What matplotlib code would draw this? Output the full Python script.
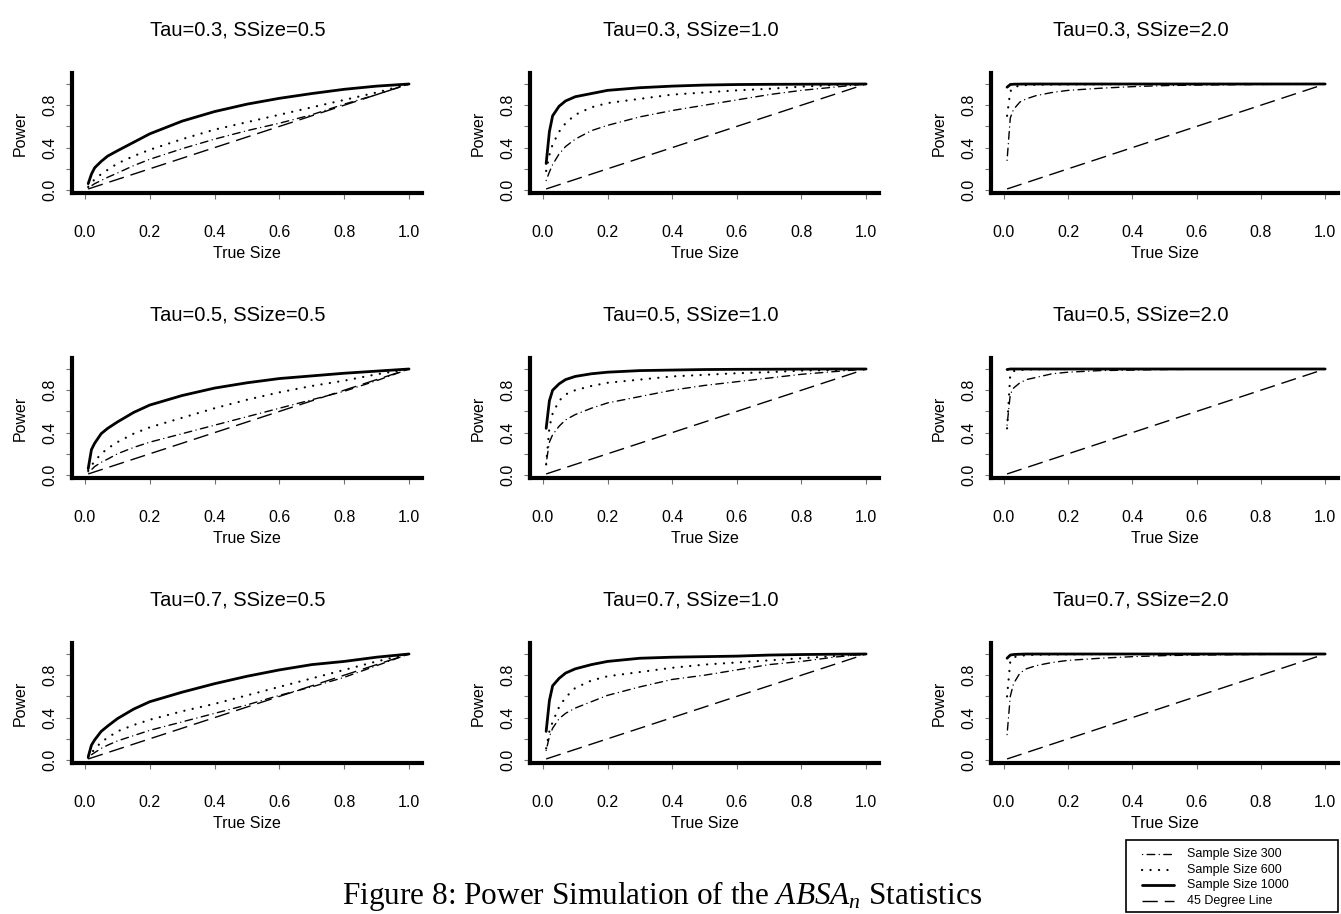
import numpy as np
import matplotlib
matplotlib.use('Agg')
import matplotlib.pyplot as plt
from matplotlib.patches import Rectangle

plt.rcParams['font.family'] = 'Liberation Sans'
plt.rcParams['mathtext.fontset'] = 'custom'
plt.rcParams['mathtext.rm'] = 'Liberation Serif'
plt.rcParams['mathtext.it'] = 'Liberation Serif:italic'
plt.rcParams['lines.scale_dashes'] = False

# true size grid shared by every panel
SIZE = [0.01, 0.02, 0.03, 0.05, 0.07, 0.10, 0.15, 0.20, 0.30, 0.40, 0.50, 0.60, 0.70, 0.80, 0.90, 1.00]

TAUS = [0.3, 0.5, 0.7]
SSIZES = [0.5, 1.0, 2.0]

# simulated power by sample size, one dict per (tau, ssize)
t03_s05 = {
    300:  [.02, .04, .06, .09, .12, .16, .23, .29, .39, .48, .56, .63, .71, .81, .90, 1.0],
    600:  [.03, .07, .10, .15, .19, .25, .32, .38, .48, .57, .64, .71, .78, .85, .92, 1.0],
    1000: [.06, .15, .21, .27, .32, .37, .45, .53, .65, .74, .81, .865, .91, .95, .98, 1.0],
}
t03_s10 = {
    300:  [.09, .17, .24, .34, .41, .48, .56, .61, .69, .75, .80, .85, .90, .94, .97, 1.0],
    600:  [.18, .33, .43, .55, .63, .71, .78, .82, .86, .90, .92, .94, .955, .975, .99, 1.0],
    1000: [.25, .55, .70, .79, .84, .88, .91, .94, .965, .98, .99, .995, .997, .998, .999, 1.0],
}
t03_s20 = {
    300:  [.28, .68, .76, .83, .86, .89, .92, .94, .96, .975, .985, .99, .993, .996, .998, 1.0],
    600:  [.70, .93, .97, .985, .99, .993, .995, .996, .997, .998, .999, 1.0, 1.0, 1.0, 1.0, 1.0],
    1000: [.97, .995, .998, .999, 1.0, 1.0, 1.0, 1.0, 1.0, 1.0, 1.0, 1.0, 1.0, 1.0, 1.0, 1.0],
}
t05_s05 = {
    300:  [.03, .05, .08, .12, .15, .20, .26, .31, .39, .47, .55, .63, .71, .79, .89, 1.0],
    600:  [.04, .09, .13, .20, .25, .31, .39, .45, .54, .63, .71, .78, .84, .89, .95, 1.0],
    1000: [.06, .24, .30, .39, .44, .50, .59, .66, .75, .82, .87, .91, .935, .96, .98, 1.0],
}
t05_s10 = {
    300:  [.11, .31, .38, .46, .52, .57, .63, .68, .74, .80, .845, .88, .915, .95, .975, 1.0],
    600:  [.10, .45, .58, .70, .76, .80, .84, .87, .90, .93, .945, .96, .97, .985, .99, 1.0],
    1000: [.44, .70, .80, .86, .90, .93, .955, .97, .985, .99, .995, .997, .998, .999, 1.0, 1.0],
}
t05_s20 = {
    300:  [.47, .76, .82, .87, .90, .92, .955, .97, .985, .99, .995, .997, .998, .999, 1.0, 1.0],
    600:  [.44, .95, .98, .99, .995, .997, .998, .999, 1.0, 1.0, 1.0, 1.0, 1.0, 1.0, 1.0, 1.0],
    1000: [.995, 1.0, 1.0, 1.0, 1.0, 1.0, 1.0, 1.0, 1.0, 1.0, 1.0, 1.0, 1.0, 1.0, 1.0, 1.0],
}
t07_s05 = {
    300:  [.02, .05, .07, .11, .14, .18, .23, .28, .36, .44, .52, .61, .69, .78, .89, 1.0],
    600:  [.02, .07, .10, .17, .21, .27, .33, .38, .46, .53, .61, .69, .77, .85, .93, 1.0],
    1000: [.03, .14, .19, .27, .32, .39, .48, .55, .64, .72, .79, .85, .90, .93, .97, 1.0],
}
t07_s10 = {
    300:  [.09, .22, .30, .39, .44, .49, .55, .61, .69, .76, .80, .85, .90, .93, .97, 1.0],
    600:  [.11, .27, .36, .50, .59, .68, .75, .79, .83, .87, .90, .92, .94, .96, .98, 1.0],
    1000: [.27, .56, .70, .77, .82, .86, .90, .93, .96, .97, .975, .98, .99, .995, .998, 1.0],
}
t07_s20 = {
    300:  [.24, .60, .72, .82, .86, .89, .92, .94, .96, .975, .985, .99, .993, .996, .998, 1.0],
    600:  [.60, .93, .97, .98, .99, .993, .995, .997, .998, .999, 1.0, 1.0, 1.0, 1.0, 1.0, 1.0],
    1000: [.96, .99, .995, .998, 1.0, 1.0, 1.0, 1.0, 1.0, 1.0, 1.0, 1.0, 1.0, 1.0, 1.0, 1.0],
}

PANELS = [[t03_s05, t03_s10, t03_s20],
          [t05_s05, t05_s10, t05_s20],
          [t07_s05, t07_s10, t07_s20]]

LEGEND_LABELS = ['Sample Size 300', 'Sample Size 600', 'Sample Size 1000', '45 Degree Line']

# line styles (dash lengths in points)
STYLE = {
    300:  dict(lw=1.0, dashes=(0.1, 3.2, 5.5, 3.2), dash_capstyle='round'),
    600:  dict(lw=1.6, dashes=(0.1, 6.0), dash_capstyle='round'),
    1000: dict(lw=2.0, solid_capstyle='round'),
    45:   dict(lw=1.0, dashes=(11, 5)),
}

W, H = 1341, 914
fig = plt.figure(figsize=(W / 100, H / 100), dpi=100)

COL_X = [(72, 422), (530, 879), (991, 1338)]
ROW_Y = [(73.4, 193.2), (358.4, 478.2), (643.4, 763.2)]
TITLE_X = [238, 691, 1141]
TITLE_Y = [30, 315, 600]

overlay = fig.add_axes([0, 0, 1, 1], zorder=5)
overlay.set_xlim(0, W)
overlay.set_ylim(H, 0)
overlay.axis('off')
overlay.patch.set_alpha(0)

for r, tau in enumerate(TAUS):
    for c, ss in enumerate(SSIZES):
        x0, x1 = COL_X[c]
        y0, y1 = ROW_Y[r]
        ax = fig.add_axes([x0 / W, 1 - y1 / H, (x1 - x0) / W, (y1 - y0) / H])
        data = PANELS[r][c]

        ax.plot([SIZE[0], 1.0], [SIZE[0], 1.0], color='black', **STYLE[45])
        for n in (300, 600, 1000):
            ax.plot(SIZE, data[n], color='black', **STYLE[n])

        ax.set_xlim(-0.04, 1.04)
        ax.set_ylim(-0.03, 1.10)
        for side in ('top', 'right'):
            ax.spines[side].set_visible(False)
        for side in ('left', 'bottom'):
            ax.spines[side].set_linewidth(3)
            ax.spines[side].set_capstyle('projecting')

        ticks = np.arange(0, 1.01, 0.2)
        ax.set_xticks(ticks)
        ax.set_xticklabels(['%.1f' % t for t in ticks])
        ax.set_yticks(ticks)
        ax.set_yticklabels(['0.0', '', '0.4', '', '0.8', ''], rotation=90, va='center')
        ax.tick_params(length=4, width=0.8, color='0.45', labelsize=11.5)
        ax.tick_params(axis='x', pad=19)
        ax.tick_params(axis='y', pad=6.5)

        overlay.text(TITLE_X[c], TITLE_Y[r], 'Tau=%.1f, SSize=%.1f' % (tau, ss),
                     ha='center', va='center', fontsize=14.5)
        overlay.text(x0 - 52, (y0 + y1) / 2, 'Power', rotation=90,
                     ha='center', va='center', fontsize=11.5)
        overlay.text((x0 + x1) / 2, y1 + 60, 'True Size',
                     ha='center', va='center', fontsize=11.5)

# legend box
overlay.add_patch(Rectangle((1126, 840), 212, 72, fill=False, lw=1.2, edgecolor='black'))
for i, (key, label) in enumerate(zip((300, 600, 1000, 45), LEGEND_LABELS)):
    yy = 854 + i * 15.6
    overlay.plot([1142, 1174], [yy, yy], color='black', **STYLE[key])
    overlay.text(1187, yy, label, ha='left', va='center', fontsize=9)

overlay.text(662, 904, r'Figure 8: Power Simulation of the $\mathit{ABSA}_{\mathit{n}}$ Statistics',
             ha='center', va='baseline', fontsize=22.5, family='Liberation Serif')

fig.savefig('out.png', dpi=100)
